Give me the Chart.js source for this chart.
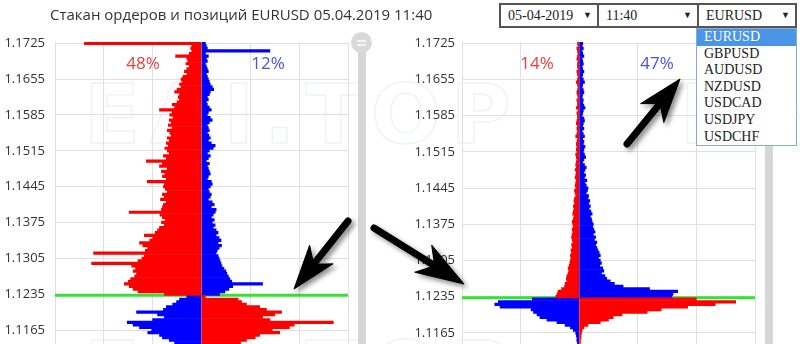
<!DOCTYPE html>
<html><head><meta charset="utf-8">
<script src="https://cdn.jsdelivr.net/npm/chart.js@4.4.0/dist/chart.umd.min.js"></script>
<style>
html,body{margin:0;padding:0;width:800px;height:344px;overflow:hidden;background:#fff;font-family:"Open Sans",sans-serif;}
#wm{position:absolute;left:0;top:0;}
#c1{position:absolute;left:0;top:0;}
#c2{position:absolute;left:400px;top:0;}
.title{position:absolute;left:50px;top:4px;font-size:15px;color:#333;white-space:nowrap;}
.pct{position:absolute;top:51px;font-size:17px;width:60px;text-align:center;}
.sbar{position:absolute;width:8px;background:#d6d6d6;}
.knob{position:absolute;left:351px;top:32px;width:21px;height:21px;border-radius:50%;background:#d9d9d9;}
.knob i{position:absolute;left:6px;width:9px;height:2px;background:#f4f4f4;}
.sel{position:absolute;top:3px;height:25px;border:2px solid #555;box-sizing:border-box;background:#fff;font-family:"Liberation Serif",serif;font-size:14px;color:#222;line-height:21px;padding-left:7px;}
.sel span{position:absolute;right:5px;top:0;font-size:9px;}
#list{position:absolute;left:696px;top:28px;width:101px;height:118px;border:1px solid #8ea8d4;box-sizing:border-box;background:#fff;font-family:"Liberation Serif",serif;font-size:14px;color:#222;}
#list div{height:16.6px;line-height:16.6px;padding-left:7px;}
#list div.on{background:#4a95e6;color:#fff;}
#arrows{position:absolute;left:0;top:0;}
</style></head>
<body>
<svg id="wm" width="800" height="344">
  <g fill="none" stroke="#eff2f6" stroke-width="1.5" font-family="DejaVu Sans" font-weight="bold" font-size="82" letter-spacing="10">
    <text x="84" y="143">EAI.TOP</text>
    <text x="680" y="143">EAI</text>
    <text x="84" y="400">EAI.TOP</text>
  </g>
</svg>
<canvas id="c1" width="350" height="367"></canvas>
<canvas id="c2" width="357" height="367"></canvas>
<div class="title">Стакан ордеров и позиций EURUSD 05.04.2019 11:40</div>
<div class="pct" style="left:113px;color:#e8413c">48%</div>
<div class="pct" style="left:238px;color:#4f4fe0">12%</div>
<div class="pct" style="left:507px;color:#e8413c">14%</div>
<div class="pct" style="left:627px;color:#4f4fe0">47%</div>
<div class="sbar" style="left:358px;top:40px;height:310px"></div>
<div class="knob"><i style="top:8px"></i><i style="top:12px"></i></div>
<div class="sbar" style="left:765px;top:40px;height:310px"></div>
<div class="sel" style="left:499px;width:100px">05-04-2019<span>&#9660;</span></div>
<div class="sel" style="left:597px;width:102px">11:40<span>&#9660;</span></div>
<div class="sel" style="left:697px;width:100px">EURUSD<span>&#9660;</span></div>
<div id="list"></div>
<svg id="arrows" width="800" height="344">
  <defs><filter id="sh" x="-30%" y="-30%" width="160%" height="160%"><feDropShadow dx="3" dy="3" stdDeviation="2.5" flood-color="#000" flood-opacity="0.45"/></filter></defs>
  <g id="ag" filter="url(#sh)" fill="#000" stroke="#000"></g>
</svg>
<script>
// ---- data ----
const categories = [
"1.1725","1.1720","1.1715","1.1710","1.1705","1.1700","1.1695","1.1690","1.1685","1.1680",
"1.1675","1.1670","1.1665","1.1660","1.1655","1.1650","1.1645","1.1640","1.1635","1.1630",
"1.1625","1.1620","1.1615","1.1610","1.1605","1.1600","1.1595","1.1590","1.1585","1.1580",
"1.1575","1.1570","1.1565","1.1560","1.1555","1.1550","1.1545","1.1540","1.1535","1.1530",
"1.1525","1.1520","1.1515","1.1510","1.1505","1.1500","1.1495","1.1490","1.1485","1.1480",
"1.1475","1.1470","1.1465","1.1460","1.1455","1.1450","1.1445","1.1440","1.1435","1.1430",
"1.1425","1.1420","1.1415","1.1410","1.1405","1.1400","1.1395","1.1390","1.1385","1.1380",
"1.1375","1.1370","1.1365","1.1360","1.1355","1.1350","1.1345","1.1340","1.1335","1.1330",
"1.1325","1.1320","1.1315","1.1310","1.1305","1.1300","1.1295","1.1290","1.1285","1.1280",
"1.1275","1.1270","1.1265","1.1260","1.1255","1.1250","1.1245","1.1240","1.1235","1.1230",
"1.1225","1.1220","1.1215","1.1210","1.1205","1.1200","1.1195","1.1190","1.1185","1.1180",
"1.1175","1.1170","1.1165","1.1160","1.1155","1.1150","1.1145","1.1140","1.1135","1.1130"];
const tickLabels = ["1.1725","1.1655","1.1585","1.1515","1.1445","1.1375","1.1305","1.1235","1.1165"];
const currentPrice = 1.1233;

// order book (left chart)
const bookRed = [
-240,-20,-22,-20,-25,-53,-30,-28,-32,-25,
-30,-35,-30,-38,-42,-40,-45,-42,-50,-55,
-45,-48,-45,-50,-60,-55,-86,-60,-65,-58,
-66,-62,-68,-60,-70,-65,-62,-70,-66,-72,
-68,-75,-70,-66,-78,-72,-113,-80,-86,-70,
-82,-75,-80,-72,-111,-76,-78,-74,-70,-80,
-76,-84,-72,-78,-80,-82,-148,-85,-80,-74,
-82,-76,-86,-90,-95,-117,-100,-106,-127,-120,
-110,-115,-221,-117,-122,-130,-225,-143,-135,-140,
-133,-137,-145,-150,-158,-148,-140,-130,-76,
8,75,82,92,119,133,164,150,125,140,270,
190,180,145,160,119,110,92,80,70,60];
const bookBlue = [
8,10,12,140,8,14,10,12,8,10,
12,14,10,12,14,16,18,22,25,18,
16,12,14,10,12,16,20,14,12,18,
22,16,12,14,16,12,15,18,14,20,
28,24,16,12,18,14,10,16,12,14,
16,18,14,12,20,22,18,14,16,20,
18,14,22,26,20,30,28,24,20,26,
22,28,24,30,34,30,36,40,34,41,
36,32,30,34,36,38,40,42,46,50,
52,55,58,62,125,64,56,48,37,
-30,-45,-51,-59,-72,-78,-133,-90,-76,-100,-152,
-140,-127,-102,-110,-86,-80,-66,-55,-50,-45];

// positions (right chart)
const posRed = [
-3,-2,-4,-3,-2,-3,-4,-2,-3,-3,-2,
-4,-3,-2,-3,-5,-3,-2,-3,-4,-3,
-2,-4,-3,-3,-5,-2,-4,-3,-3,-4,
-5,-3,-4,-3,-4,-6,-3,-4,-5,-4,
-5,-4,-6,-5,-4,-5,-6,-5,-7,-5,
-6,-7,-5,-6,-7,-6,-8,-7,-6,-8,
-9,-8,-10,-9,-10,-11,-9,-10,-12,-11,
-10,-12,-11,-12,-13,-12,-11,-13,-12,-14,
-13,-15,-14,-15,-16,-17,-19,-18,-19,-21,
-22,-21,-24,-25,-30,-36,-38,-40,
200,267,232,185,140,116,73,58,50,36,15,
8,5,4,3,3,2,2,2,2,2];
const posBlue = [
6,5,7,5,6,8,5,6,7,5,6,
8,6,5,7,9,6,5,7,8,6,
5,7,6,8,10,7,6,5,8,9,
7,6,8,5,7,9,6,8,7,10,
8,7,9,11,8,6,9,12,10,8,
11,9,13,10,12,15,14,12,16,15,
18,16,19,17,20,22,19,21,22,24,
23,25,27,24,28,26,30,28,30,32,
34,36,33,36,38,35,40,42,38,44,
47,53,60,75,120,168,160,158,
-80,-138,-144,-135,-82,-78,-72,-67,-55,-38,-24,
-15,-10,-6,-5,-4,-4,-3,-3,-3,-2];

const symbols = ["EURUSD","GBPUSD","AUDUSD","NZDUSD","USDCAD","USDJPY","USDCHF"];

// ---- dropdown list ----
const list = document.getElementById('list');
symbols.forEach((s,i)=>{const d=document.createElement('div');d.textContent=s;if(i===0)d.className='on';list.appendChild(d);});

// ---- arrows ----
function arrow(x1,y1,x2,y2,w,hl,hw){
  const dx=x2-x1, dy=y2-y1, L=Math.hypot(dx,dy), ux=dx/L, uy=dy/L, nx=-uy, ny=ux;
  const bx=x2-ux*hl, by=y2-uy*hl;
  const kx=x2-ux*hl*0.72, ky=y2-uy*hl*0.72;
  const g=document.getElementById('ag');
  const ln=document.createElementNS('http://www.w3.org/2000/svg','line');
  ln.setAttribute('x1',x1);ln.setAttribute('y1',y1);ln.setAttribute('x2',kx);ln.setAttribute('y2',ky);
  ln.setAttribute('stroke-width',w);ln.setAttribute('stroke-linecap','round');
  g.appendChild(ln);
  const p=document.createElementNS('http://www.w3.org/2000/svg','polygon');
  p.setAttribute('points',[[x2,y2],[bx+nx*hw/2,by+ny*hw/2],[kx,ky],[bx-nx*hw/2,by-ny*hw/2]].map(a=>a.join(',')).join(' '));
  p.setAttribute('stroke-width',1);p.setAttribute('stroke-linejoin','round');
  g.appendChild(p);
}
arrow(348,221,294,289,7,44,30);
arrow(374,228,464,284,7,48,32);
arrow(627,144,680,79,7,44,30);

// ---- charts ----
const priceLine = {
  id:'priceLine',
  beforeDatasetsDraw(chart){
    const ys=chart.scales.y, n=categories.length;
    const p0=parseFloat(categories[0]), pn=parseFloat(categories[n-1]);
    const py=ys.getPixelForValue((p0-currentPrice)/(p0-pn)*(n-1));
    const c=chart.ctx; c.save(); c.strokeStyle='#33e333'; c.lineWidth=3;
    c.beginPath(); c.moveTo(chart.chartArea.left,py); c.lineTo(chart.chartArea.right,py); c.stroke(); c.restore();
  }
};

function makeChart(id, red, blue, xmin, xmax, yWidth, tickPad){
  return new Chart(document.getElementById(id), {
    type:'bar',
    data:{labels:categories, datasets:[
      {data:red, backgroundColor:'#ff0000', borderWidth:0, barPercentage:1, categoryPercentage:1},
      {data:blue, backgroundColor:'#0000ff', borderWidth:0, barPercentage:1, categoryPercentage:1}
    ]},
    options:{
      indexAxis:'y', responsive:false, animation:false,
      layout:{padding:{top:42,right:2,bottom:0,left:0}},
      plugins:{legend:{display:false}, tooltip:{enabled:false}},
      scales:{
        x:{stacked:true, min:xmin, max:xmax,
           ticks:{display:false, stepSize:100},
           grid:{color:'#e0e0e0', drawTicks:false},
           border:{display:false},
           afterFit:s=>{s.height=0;}},
        y:{stacked:true,
           ticks:{autoSkip:false, padding:tickPad, color:'#333', font:{family:'Open Sans', size:13},
                  callback:(v,i)=>tickLabels.includes(categories[i])?categories[i]:''},
           grid:{offset:false, drawTicks:false,
                 color:c=>tickLabels.includes(categories[c.index])?'#e0e0e0':'rgba(0,0,0,0)'},
           border:{display:false},
           afterFit:s=>{s.width=yWidth;}}
      }
    },
    plugins:[priceLine]
  });
}
makeChart('c1', bookRed, bookBlue, -300, 300, 55, 10);
makeChart('c2', posRed, posBlue, -200, 300, 62, 7);
</script>
</body></html>
